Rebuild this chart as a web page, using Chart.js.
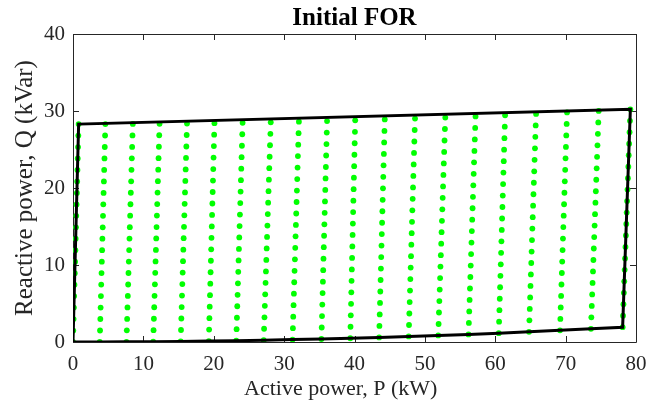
<!DOCTYPE html>
<html><head><meta charset="utf-8">
<script src="https://cdn.jsdelivr.net/npm/chart.js@4.4.0/dist/chart.umd.min.js"></script>
<style>html,body{margin:0;padding:0;background:#fff;}#wrap{width:657px;height:411px;}</style>
</head><body><div id="wrap"><canvas id="c" width="657" height="411"></canvas></div>
<script>
// Columns of operating points (bottom / top of each column)
const colPBottom = [0, 3.8, 7.6, 11.4, 15.3, 19.3, 23.2, 27.1, 31.2, 35.3, 39.4, 43.5, 47.7, 51.9, 56.2, 60.5, 64.8, 69.2, 73.6, 78.1];
const colPTop    = [0.8, 4.6, 8.5, 12.3, 16.2, 20.1, 24.1, 28.1, 32.1, 36.1, 40.1, 44.3, 48.6, 52.9, 57.2, 61.4, 65.8, 70.2, 74.7, 79.2];
const colQBottom = [0, 0.005, 0.02, 0.04, 0.07, 0.12, 0.17, 0.23, 0.31, 0.39, 0.49, 0.6, 0.72, 0.85, 0.99, 1.15, 1.32, 1.51, 1.71, 1.92];
// Q offset of each row of points above the column bottom
const rowQ = [0, 1.49, 2.98, 4.47, 5.96, 7.45, 8.94, 10.43, 11.92, 13.41, 14.89, 16.38, 17.87, 19.36, 20.85, 22.34, 23.83, 25.32, 26.81, 28.3];
// Boundary (convex hull) of the FOR
const hullP = [0, 0.8, 79.2, 78.1, 73.6, 69.2, 64.8, 60.5, 56.2, 51.9, 47.7, 43.5, 39.4, 35.3, 31.2, 27.1, 23.2, 19.3, 15.3, 11.4, 7.6, 3.8, 0];
const hullQ = [0, 28.3, 30.22, 1.92, 1.71, 1.51, 1.32, 1.15, 0.99, 0.85, 0.72, 0.6, 0.49, 0.39, 0.31, 0.23, 0.17, 0.12, 0.07, 0.04, 0.02, 0.005, 0];
const xTicks = [0, 10, 20, 30, 40, 50, 60, 70, 80];
const yTicks = [0, 10, 20, 30, 40];

const dots = [];
const rowMax = rowQ[rowQ.length - 1];
for (let i = 0; i < colPBottom.length; i++) {
  for (let k = 0; k < rowQ.length; k++) {
    const f = rowQ[k] / rowMax;
    dots.push({x: colPBottom[i] + (colPTop[i] - colPBottom[i]) * f, y: colQBottom[i] + rowQ[k]});
  }
}
const hull = hullP.map((p, i) => ({x: p, y: hullQ[i]}));

const FONT = "'Liberation Serif', 'Times New Roman', serif";
const AX = '#262626';

const framePlugin = {
  id: 'frame',
  beforeDatasetsDraw(chart) {
    const {ctx, chartArea: a, scales: {x, y}} = chart;
    ctx.save();
    ctx.strokeStyle = AX;
    ctx.lineWidth = 1;
    ctx.beginPath();
    ctx.rect(Math.round(a.left) + 0.5, Math.round(a.top) + 0.5, Math.round(a.right - a.left), Math.round(a.bottom - a.top));
    ctx.stroke();
    const L = 6;
    ctx.beginPath();
    xTicks.forEach(v => {
      const px = Math.round(x.getPixelForValue(v)) + 0.5;
      ctx.moveTo(px, a.bottom); ctx.lineTo(px, a.bottom - L);
      ctx.moveTo(px, a.top); ctx.lineTo(px, a.top + L);
    });
    yTicks.forEach(v => {
      const py = Math.round(y.getPixelForValue(v)) + 0.5;
      ctx.moveTo(a.left, py); ctx.lineTo(a.left + L, py);
      ctx.moveTo(a.right, py); ctx.lineTo(a.right - L, py);
    });
    ctx.stroke();
    ctx.restore();
  }
};

new Chart(document.getElementById('c'), {
  type: 'scatter',
  data: {
    datasets: [
      {label: 'FOR boundary', data: hull, showLine: true, borderColor: '#000', borderWidth: 3, pointRadius: 0, fill: false, order: 0, tension: 0},
      {label: 'Points', data: dots, pointRadius: 2.9, pointBackgroundColor: '#00ff00', pointBorderWidth: 0, borderWidth: 0, order: 1}
    ]
  },
  options: {
    responsive: false,
    animation: false,
    devicePixelRatio: 1,
    layout: {padding: {left: 0, right: 21, top: 0, bottom: 0}},
    plugins: {
      legend: {display: false},
      tooltip: {enabled: false},
      title: {display: false}
    },
    scales: {
      x: {
        type: 'linear', min: 0, max: 80,
        afterBuildTicks: s => { s.ticks = xTicks.map(v => ({value: v})); },
        afterFit: s => { s.height = 69; },
        grid: {display: false, drawTicks: false}, border: {display: false},
        ticks: {color: AX, font: {family: FONT, size: 21}, padding: 10, maxRotation: 0},
        title: {display: true, text: 'Active power, P (kW)     ', color: AX, font: {family: FONT, size: 22}, padding: {top: 0, bottom: 9}}
      },
      xTop: {
        type: 'linear', position: 'top', min: 0, max: 80,
        afterFit: s => { s.height = 34; },
        grid: {display: false, drawTicks: false}, border: {display: false},
        ticks: {display: false},
        title: {display: true, text: 'Initial FOR', color: '#000', font: {family: FONT, size: 25, weight: 'bold'}, padding: {top: 4, bottom: 0}}
      },
      y: {
        type: 'linear', min: 0, max: 40,
        afterBuildTicks: s => { s.ticks = yTicks.map(v => ({value: v})); },
        afterFit: s => { s.width = 73; },
        grid: {display: false, drawTicks: false}, border: {display: false},
        ticks: {color: AX, font: {family: FONT, size: 21}, padding: 8},
        title: {display: true, text: 'Reactive power, Q (kVar)', color: AX, font: {family: FONT, size: 25}, padding: {top: 10, bottom: 0}}
      }
    }
  },
  plugins: [framePlugin]
});
</script>
</body></html>
